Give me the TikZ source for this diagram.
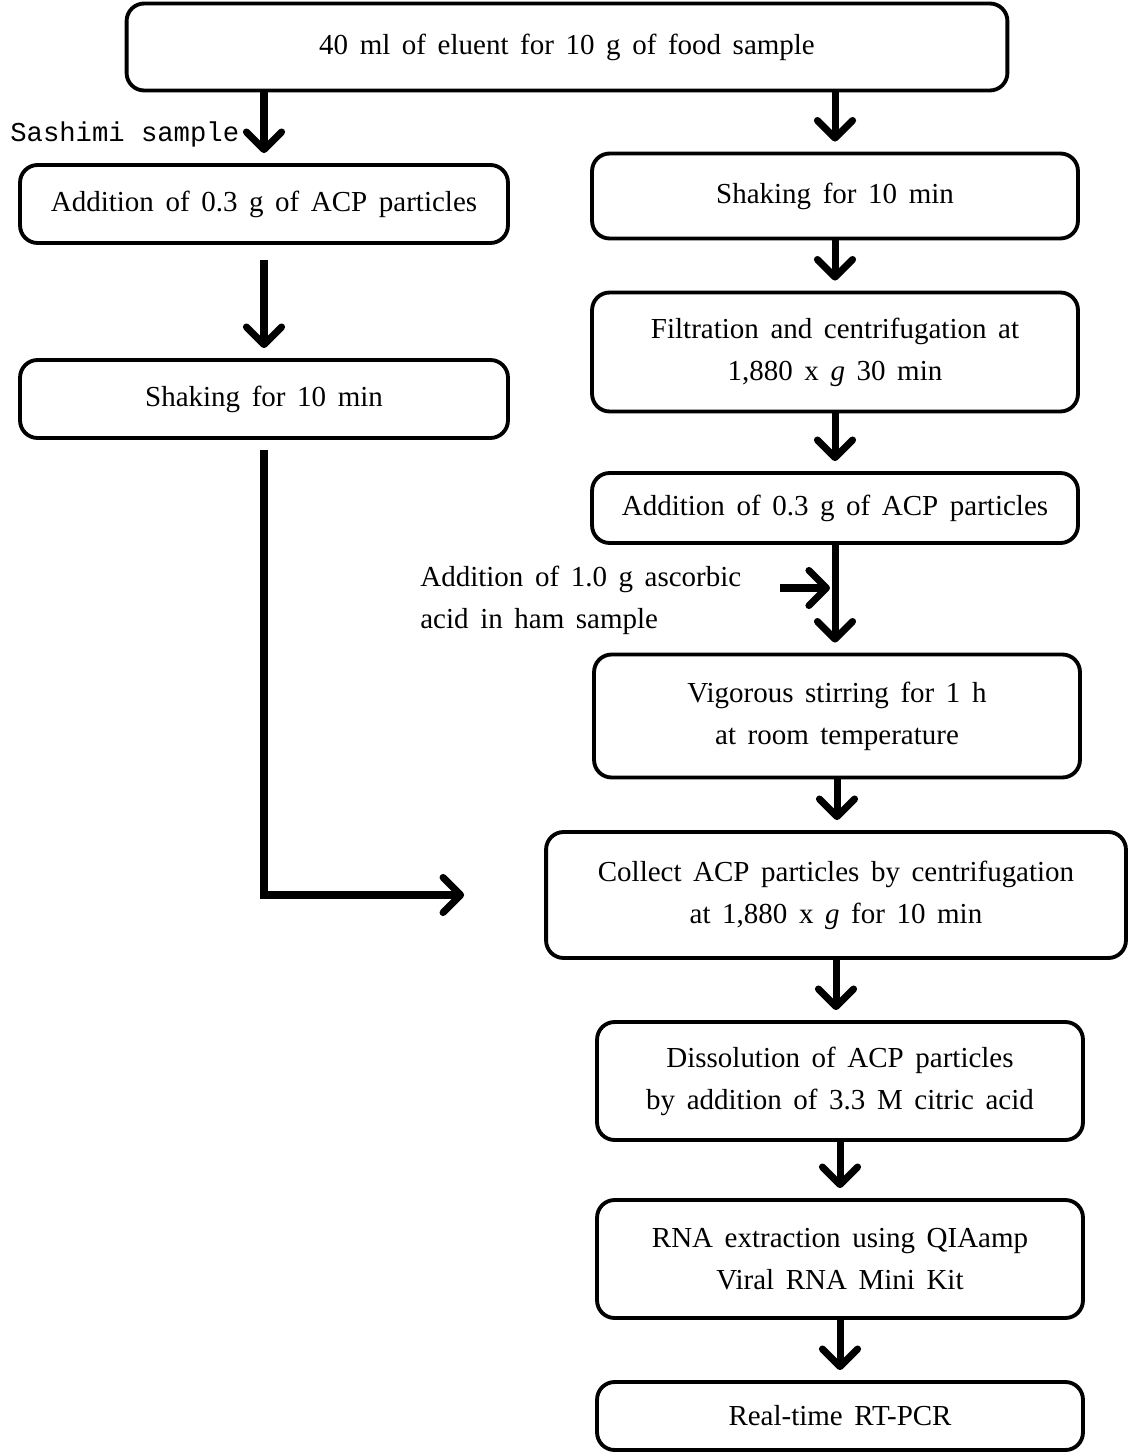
\documentclass[tikz,border=0pt]{standalone}
\usepackage{fontspec}
\setmainfont[WordSpace={1.6,1,1}]{Liberation Serif}
\newfontfamily\sashfont{Liberation Mono}
\usetikzlibrary{arrows.meta, positioning, calc}

\tikzset{
  stepbox/.style={draw, line width=2.2pt, rounded corners=10pt, align=center, inner sep=4pt,
    font=\fontsize{16.5}{24}\selectfont},
  arr/.style={line width=4pt, shorten >=0.2cm,
    -{Straight Barb[length=10pt, width=20pt, line cap=round, line join=round]}},
}

\begin{document}
\begin{tikzpicture}[x=0.02cm, y=-0.02cm]
  \useasboundingbox (0,0) rectangle (1128,1452);

  % Top box
  \node[stepbox, minimum width=17.62cm, minimum height=1.74cm] (top) at (567,47) {40 ml of eluent for 10 g of food sample};

  % Left column (sashimi)
  \node[stepbox, minimum width=9.76cm, minimum height=1.56cm] (l1) at (264,204) {Addition of 0.3 g of ACP particles};
  \node[stepbox, minimum width=9.76cm, minimum height=1.56cm] (l2) at (264,399) {Shaking for 10 min};
  \node[anchor=west, font=\sashfont\fontsize{15.5}{18}\selectfont, inner sep=0pt] (sash) at (10,134) {Sashimi sample};

  % Right column
  \node[stepbox, minimum width=9.72cm, minimum height=1.7cm] (r1) at (835,196) {Shaking for 10 min};
  \node[stepbox, minimum width=9.72cm, minimum height=2.38cm] (r2) at (835,352) {Filtration and centrifugation at\\1,880 x \textit{g} 30 min};
  \node[stepbox, minimum width=9.72cm, minimum height=1.4cm] (r3) at (835,508) {Addition of 0.3 g of ACP particles};
  \node[stepbox, minimum width=9.72cm, minimum height=2.46cm] (r4) at (837,716) {Vigorous stirring for 1 h\\at room temperature};
  \node[stepbox, minimum width=11.6cm, minimum height=2.52cm] (r5) at (836,895) {Collect ACP particles by centrifugation\\at 1,880 x \textit{g} for 10 min};
  \node[stepbox, minimum width=9.72cm, minimum height=2.36cm] (r6) at (840,1081) {Dissolution of ACP particles\\by addition of 3.3 M citric acid};
  \node[stepbox, minimum width=9.72cm, minimum height=2.36cm] (r7) at (840,1259) {RNA extraction using QIAamp\\Viral RNA Mini Kit};
  \node[stepbox, minimum width=9.72cm, minimum height=1.36cm] (r8) at (840,1416) {Real-time RT-PCR};

  % Ascorbic acid input
  \node[anchor=north west, align=left, inner sep=0pt, font=\fontsize{16.5}{24}\selectfont] (asc) at (420,566) {Addition of 1.0 g ascorbic\\acid in ham sample};
  \coordinate (ascin) at (780,588);

  % Arrows
  \draw[arr] (top.south -| l1.north) -- (l1.north);
  \draw[arr] (top.south -| r1.north) -- (r1.north);
  \draw[arr, shorten <=0.3cm] (l1.south) -- (l2.north);
  \draw[arr, shorten <=0.2cm, shorten >=1.6cm] (l2.south) |- (r5.west);
  \draw[arr] (r1.south) -- (r1.south |- r2.north);
  \draw[arr] (r2.south) -- (r2.south |- r3.north);
  \draw[arr] (r3.south) -- (r3.south |- r4.north);
  \draw[arr, shorten >=0.1cm] (ascin) -- (ascin -| r3.south);
  \draw[arr] (r4.south) -- (r4.south |- r5.north);
  \draw[arr] (r5.south) -- (r5.south |- r6.north);
  \draw[arr] (r6.south) -- (r6.south |- r7.north);
  \draw[arr] (r7.south) -- (r7.south |- r8.north);
\end{tikzpicture}
\end{document}
